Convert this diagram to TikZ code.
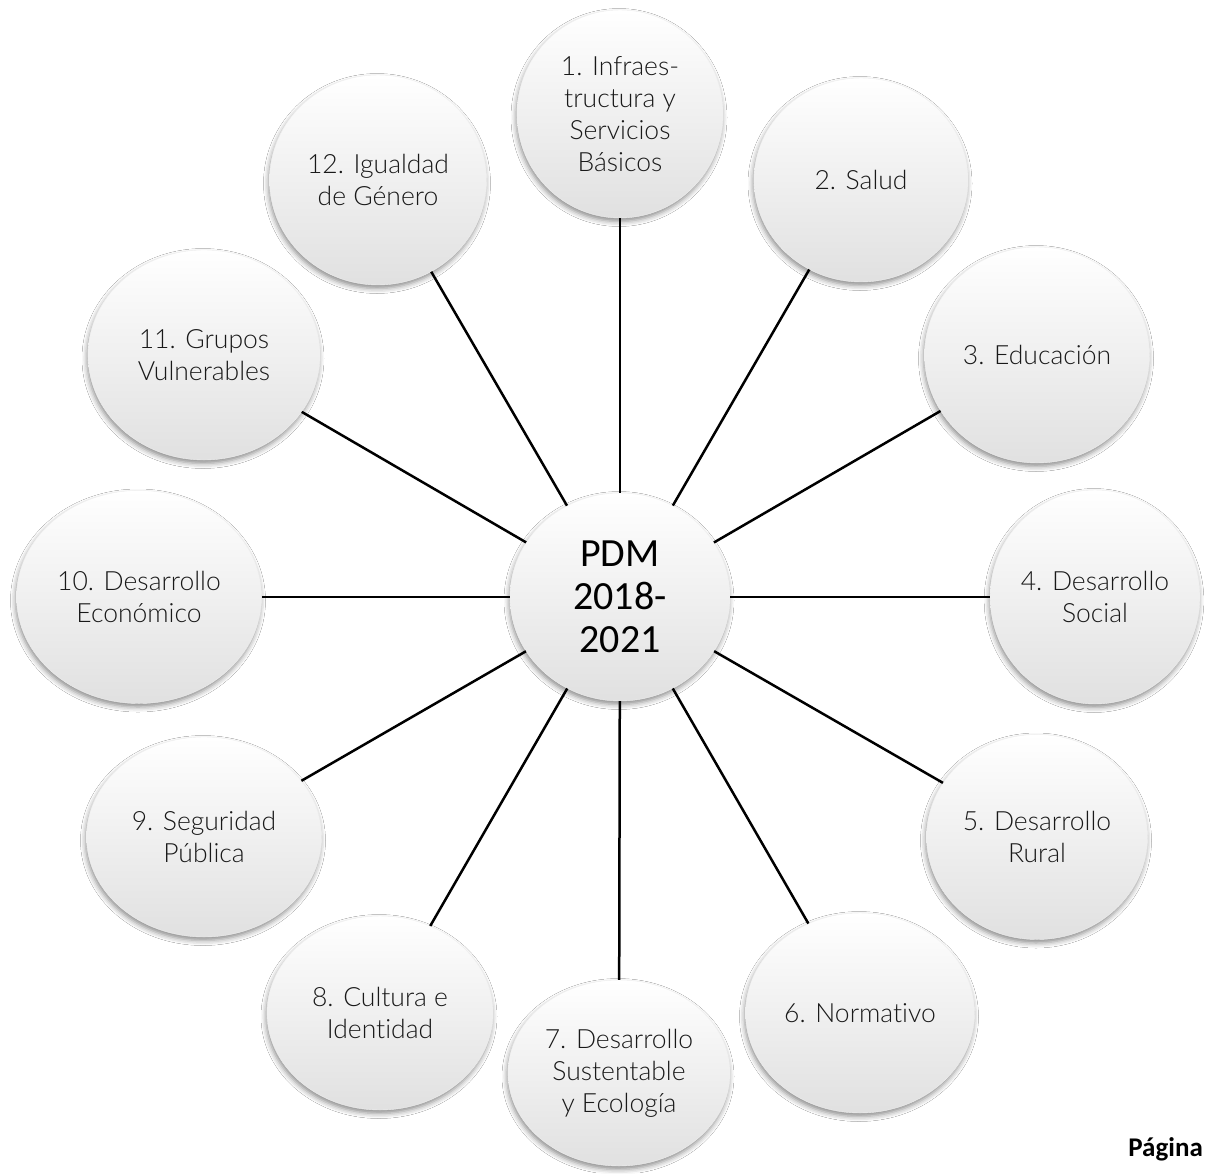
\documentclass[tikz,border=0pt]{standalone}
\usepackage{fontspec}
\setmainfont{Carlito}
\newfontfamily\lightfont{Lato Light}[Ligatures=NoCommon]
\usetikzlibrary{shapes.geometric,shadows.blur}
\begin{document}
\begin{tikzpicture}[x=1pt,y=-1pt,
  bubble/.style={ellipse, inner sep=0pt, align=center,
    font=\lightfont\fontsize{26.5}{32}\selectfont, text=black!90,
    top color=white, middle color=white, bottom color=black!12,
    draw=black!6, line width=0.4pt,
    blur shadow={shadow xshift=-1pt, shadow yshift=-3.5pt, shadow blur radius=5pt, shadow opacity=45}},
  link/.style={line width=2.5pt, black}]
\fill[white] (0,0) rectangle (1210,1173);
\useasboundingbox (0,0) rectangle (1210,1173);

\node[bubble, minimum width=220pt, minimum height=208pt, font=\fontsize{40}{43}\selectfont, text=black] (c) at (620,597) {PDM\\2018-\\2021};

\node[bubble, minimum width=206pt, minimum height=208pt] (n1) at (620,114) {1. Infraes-\\tructura y\\Servicios\\Básicos};
\node[bubble, minimum width=214pt, minimum height=204pt] (n2) at (861,180) {2. Salud};
\node[bubble, minimum width=225pt, minimum height=216pt] (n3) at (1037,355) {3. Educación};
\node[bubble, minimum width=206pt, minimum height=214pt] (n4) at (1095,597) {4. Desarrollo\\Social};
\node[bubble, minimum width=221pt, minimum height=205pt] (n5) at (1037,837) {5. Desarrollo\\Rural};
\node[bubble, minimum width=229pt, minimum height=200pt] (n6) at (860,1013) {6. Normativo};
\node[bubble, minimum width=222pt, minimum height=186pt] (n7) at (619,1073) {7. Desarrollo\\Sustentable\\y Ecología};
\node[bubble, minimum width=226pt, minimum height=194pt] (n8) at (380,1013) {8. Cultura e\\Identidad};
\node[bubble, minimum width=235pt, minimum height=200pt] (n9) at (204,837) {9. Seguridad\\Pública};
\node[bubble, minimum width=245pt, minimum height=213pt] (n10) at (139,597) {10. Desarrollo\\Económico};
\node[bubble, minimum width=232pt, minimum height=210pt] (n11) at (204,355) {11. Grupos\\Vulnerables};
\node[bubble, minimum width=217pt, minimum height=210pt] (n12) at (378,180) {12. Igualdad\\de Género};

\foreach \i in {1,...,12} {\draw[link] (c) -- (n\i);}

\node[anchor=east, inner sep=0pt, font=\bfseries\fontsize{27}{30}\selectfont] (pg) at (1203,1149) {Página};
\end{tikzpicture}
\end{document}
